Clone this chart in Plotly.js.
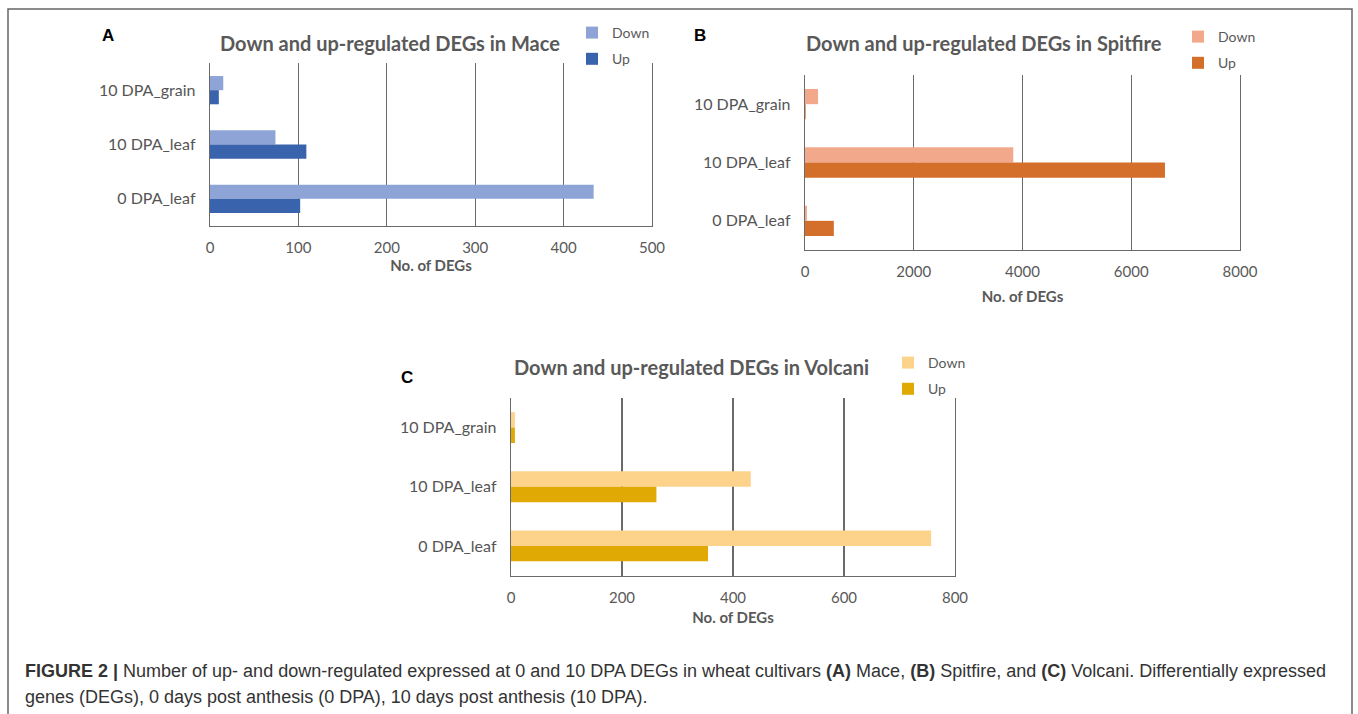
<!DOCTYPE html>
<html><head><meta charset="utf-8">
<script src="https://cdn.plot.ly/plotly-3.0.1.min.js"></script>
<style>html,body{margin:0;padding:0;background:#fff;}#chart{width:1358px;height:714px;}</style>
</head><body><div id="chart"></div>
<script>
// ---- data ----
const categories = ['10 DPA_grain', '10 DPA_leaf', '0 DPA_leaf'];
const seriesNames = ['Down', 'Up'];
const maceDown = [15, 74, 434];
const maceUp = [10, 109, 102];
const spitfireDown = [240, 3830, 35];
const spitfireUp = [12, 6620, 530];
const volcaniDown = [7, 432, 757];
const volcaniUp = [7, 262, 355];
const maceTicks = [0, 100, 200, 300, 400, 500];
const spitfireTicks = [0, 2000, 4000, 6000, 8000];
const volcaniTicks = [0, 200, 400, 600, 800];
const titles = ['Down and up-regulated DEGs in Mace', 'Down and up-regulated DEGs in Spitfire', 'Down and up-regulated DEGs in Volcani'];
const panelLetters = ['A', 'B', 'C'];
const xTitle = 'No. of DEGs';
const captionLines = [
  '<b>FIGURE 2 |</b> Number of up- and down-regulated expressed at 0 and 10 DPA DEGs in wheat cultivars <b>(A)</b> Mace, <b>(B)</b> Spitfire, and <b>(C)</b> Volcani. Differentially expressed',
  'genes (DEGs), 0 days post anthesis (0 DPA), 10 days post anthesis (10 DPA).'
];

// ---- layout helpers ----
const W = 1358, H = 714;
const px = x => x / W;
const py = y => 1 - y / H;
const FONT = 'Lato, "Open Sans", sans-serif';
const GRAY = '#595959';
const GRID = '#6a6a6a';

const colors = {
  mace: ['#8EA4D6', '#3A63AD'],
  spit: ['#F2A88B', '#D46E2B'],
  volc: ['#FDD38B', '#E1A904']
};

function bar(name, vals, color, xa, ya, leg) {
  return {
    type: 'bar', orientation: 'h', name: name, x: vals, y: categories,
    xaxis: xa, yaxis: ya, legend: leg, legendgroup: leg + name,
    marker: {color: color}, hoverinfo: 'x+y'
  };
}

const data = [
  bar(seriesNames[0], maceDown, colors.mace[0], 'x', 'y', 'legend'),
  bar(seriesNames[1], maceUp, colors.mace[1], 'x', 'y', 'legend'),
  bar(seriesNames[0], spitfireDown, colors.spit[0], 'x2', 'y2', 'legend2'),
  bar(seriesNames[1], spitfireUp, colors.spit[1], 'x2', 'y2', 'legend2'),
  bar(seriesNames[0], volcaniDown, colors.volc[0], 'x3', 'y3', 'legend3'),
  bar(seriesNames[1], volcaniUp, colors.volc[1], 'x3', 'y3', 'legend3')
];

function xaxis(dom, ticks, anchor, standoff) {
  return {
    domain: dom, anchor: anchor, range: [0, ticks[ticks.length - 1]],
    tickvals: ticks, ticktext: ticks.map(String), showgrid: true, gridcolor: GRID, gridwidth: 1.3,
    zeroline: false, showline: true, linecolor: GRID, linewidth: 1.3, ticks: '',
    ticklabelstandoff: 8,
    tickfont: {family: FONT, size: 15, color: GRAY},
    title: {text: xTitle, font: {family: FONT, size: 15, color: GRAY, weight: 'bold'}, standoff: standoff},
    fixedrange: true
  };
}
function yaxis(dom, anchor) {
  return {
    domain: dom, anchor: anchor, type: 'category', range: [2.5, -0.5],
    showgrid: false, zeroline: false, showline: true, mirror: true, linecolor: GRID, linewidth: 1.3, ticks: '',
    ticklabelstandoff: 10,
    tickfont: {family: FONT, size: 16, color: '#555'}, fixedrange: true
  };
}
function legend(x, y) {
  return {
    x: x, y: y, xanchor: 'left', yanchor: 'top', bgcolor: 'rgba(0,0,0,0)',
    font: {family: FONT, size: 14, color: GRAY}, traceorder: 'grouped', tracegroupgap: 5,
    itemclick: false, itemdoubleclick: false
  };
}

const annotations = [
  {text: titles[0], x: px(390), y: py(43)},
  {text: titles[1], x: px(984), y: py(43)},
  {text: titles[2], x: px(691), y: py(367)}
].map(a => Object.assign(a, {xref: 'paper', yref: 'paper', showarrow: false, xanchor: 'center', yanchor: 'middle',
  font: {family: FONT, size: 20, color: GRAY, weight: 'bold'}}));

[[panelLetters[0], 108, 35], [panelLetters[1], 700, 35], [panelLetters[2], 407, 377]].forEach(p => {
  annotations.push({text: '<b>' + p[0] + '</b>', x: px(p[1]), y: py(p[2]), xref: 'paper', yref: 'paper', showarrow: false,
    xanchor: 'center', yanchor: 'middle', font: {family: 'Liberation Sans, Arial, sans-serif', size: 17, color: '#000'}});
});

captionLines.forEach((t, i) => {
  annotations.push({text: t, x: px(23), y: py(671 + 26 * i), xref: 'paper', yref: 'paper', showarrow: false,
    xanchor: 'left', yanchor: 'middle', align: 'left',
    font: {family: 'Liberation Sans, Arial, sans-serif', size: 18, color: '#333'}});
});

const layout = {
  width: W, height: H, margin: {l: 0, r: 0, t: 0, b: 0},
  paper_bgcolor: '#fff', plot_bgcolor: 'rgba(0,0,0,0)',
  barmode: 'group', bargap: 0.48, bargroupgap: 0,
  showlegend: true,
  xaxis: xaxis([px(210), px(652)], maceTicks, 'y', 2),
  yaxis: yaxis([py(226), py(63)], 'x'),
  xaxis2: xaxis([px(805), px(1240)], spitfireTicks, 'y2', 12),
  yaxis2: yaxis([py(250), py(75)], 'x2'),
  xaxis3: xaxis([px(511), px(955)], volcaniTicks, 'y3', 7),
  yaxis3: yaxis([py(575.5), py(398)], 'x3'),
  legend: legend(px(572), py(17)),
  legend2: legend(px(1178), py(21)),
  legend3: legend(px(888), py(347)),
  annotations: annotations,
  shapes: [
    {type: 'rect', xref: 'paper', yref: 'paper', x0: px(8), x1: px(1352), y0: -0.05, y1: py(9),
     line: {color: '#666', width: 1.5}, fillcolor: 'rgba(0,0,0,0)', layer: 'below'}
  ]
};

Plotly.newPlot('chart', data, layout, {staticPlot: true, displayModeBar: false});
</script>
</body></html>
